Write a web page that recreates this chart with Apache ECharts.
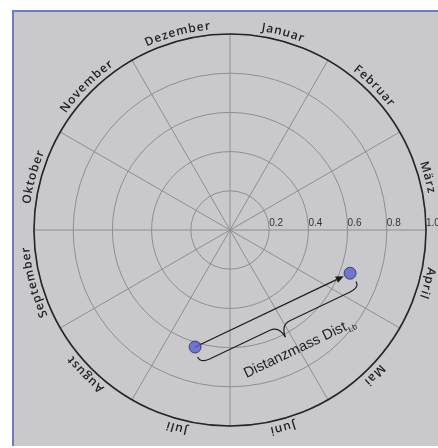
<!DOCTYPE html>
<html><head><meta charset="utf-8">
<script src="https://cdn.jsdelivr.net/npm/echarts@6/dist/echarts.min.js"></script>
<style>
html,body{margin:0;padding:0;background:#fff;}
#bg{position:absolute;left:12px;top:10px;width:426px;height:436px;background:#c9c8cd;border-top:2px solid #6e7cba;border-left:2px solid #6e7cba;box-sizing:border-box;}
#c{position:absolute;left:0;top:0;width:438px;height:448px;}
</style></head><body><div id="bg"></div><div id="c"></div>
<script>
// ---- data ----
const months = ['Januar','Februar','März','April','Mai','Juni','Juli','August','September','Oktober','November','Dezember'];
const monthCenters = [15,45,75,105,135,165,195,225,255,285,315,345]; // degrees clockwise from top
const radiusTicks = [0.2,0.4,0.6,0.8,1.0];
const pointNames = ['s','b'];
const pointRadius = [0.623, 0.651];
const pointAngle = [196.6, 109.8]; // degrees clockwise from top
const distText = 'Distanzmass Dist';
const distSub = 't,b';

// ---- helpers ----
const toAxis = t => (t + 270) % 360;   // axis: 0 at 3 o'clock, clockwise
const LABEL_R = 1.045;
const FONT_SIZE = 12, FONT_FAM = '"Open Sans"', FONT_W = 600, LS = 1.1;
const mctx = document.createElement('canvas').getContext('2d');
mctx.font = FONT_W + ' ' + FONT_SIZE + 'px ' + FONT_FAM;

const chart = echarts.init(document.getElementById('c'), null, {renderer:'canvas'});

const labelData = months.map((m,i) => [LABEL_R, toAxis(monthCenters[i])]);
const pointData = pointRadius.map((r,i) => [r, toAxis(pointAngle[i])]);
const pairData = [[pointRadius[0], toAxis(pointAngle[0]), pointRadius[1], toAxis(pointAngle[1])]];

function renderLabel(params, api) {
  const c = api.coord([0, 0]);
  const p = api.coord([api.value(0), api.value(1)]);
  const R = Math.hypot(p[0]-c[0], p[1]-c[1]);
  const phi = Math.atan2(p[1]-c[1], p[0]-c[0]);
  const chars = Array.from(months[params.dataIndex]);
  const widths = chars.map(ch => mctx.measureText(ch).width);
  const total = widths.reduce((a,b)=>a+b,0) + LS*(chars.length-1);
  let s = -total/2;
  const children = chars.map((ch,k) => {
    const mid = s + widths[k]/2;
    s += widths[k] + LS;
    const a = phi + mid / R;
    return {type:'text', x: c[0]+R*Math.cos(a), y: c[1]+R*Math.sin(a), rotation: -(a+Math.PI/2),
      style:{text: ch, fill:'#232323', fontSize: FONT_SIZE, fontWeight: FONT_W, fontFamily: FONT_FAM, align:'center', verticalAlign:'middle'}};
  });
  return {type:'group', children};
}

function renderPair(params, api) {
  const A = api.coord([api.value(0), api.value(1)]);
  const B = api.coord([api.value(2), api.value(3)]);
  const L = Math.hypot(B[0]-A[0], B[1]-A[1]);
  const ux = (B[0]-A[0])/L, uy = (B[1]-A[1])/L;
  const nx = -uy, ny = ux;
  const P = (u,n) => [A[0]+u*ux+n*nx, A[1]+u*uy+n*ny];
  const f = pt => pt[0].toFixed(2)+' '+pt[1].toFixed(2);
  const tip = P(L-7, 0), base = P(L-15, 0);
  const h1 = P(L-15, 3.5), h2 = P(L-15, -3.5);
  const m = L/2;
  const brace = 'M'+f(P(-2,10))+' Q'+f(P(-2,17))+' '+f(P(8,17))+' L'+f(P(m-11,17))+' Q'+f(P(m-1,17))+' '+f(P(m,30))
    +' Q'+f(P(m+1,17))+' '+f(P(m+11,17))+' L'+f(P(L-8,17))+' Q'+f(P(L+2,17))+' '+f(P(L+2,10));
  const tp = P(33, 46);
  return {type:'group', children:[
    {type:'line', shape:{x1:A[0], y1:A[1], x2:base[0], y2:base[1]}, style:{stroke:'#1e1e1e', lineWidth:1.3}},
    {type:'polygon', shape:{points:[tip,h1,h2]}, style:{fill:'#1e1e1e'}},
    {type:'path', shape:{pathData: brace}, style:{stroke:'#1e1e1e', lineWidth:1.2, fill:'none'}},
    {type:'text', x: tp[0], y: tp[1], rotation: -Math.atan2(uy, ux),
      style:{text:'{a|'+distText+'}{b|'+distSub+'}', align:'left', verticalAlign:'middle',
        rich:{a:{fontSize:14.5, fontFamily:'"Liberation Sans"', fill:'#1e1e1e', lineHeight:18, verticalAlign:'middle'},
              b:{fontSize:8, fontFamily:'"Liberation Sans"', fill:'#1e1e1e', lineHeight:8, verticalAlign:'bottom', padding:[0,0,0,1]}}}}
  ]};
}

chart.setOption({
  backgroundColor: 'transparent',
  animation: false,
  polar: {center: [230, 230], radius: 196},
  angleAxis: {
    type: 'value', min: 0, max: 360, interval: 30, startAngle: 0, clockwise: true,
    axisLine: {show: true, lineStyle: {color: '#262626', width: 1.6}},
    axisTick: {show: false}, axisLabel: {show: false},
    splitLine: {show: true, lineStyle: {color: '#8e8e91', width: 1}}
  },
  radiusAxis: {
    type: 'value', min: 0, max: 1, interval: 0.2,
    axisLine: {show: false}, axisTick: {show: false},
    axisLabel: {show: true, fontSize: 10, fontFamily: '"Liberation Sans"', color: '#333',
      align: 'left', verticalAlign: 'bottom', margin: 2,
      formatter: v => radiusTicks.some(t => Math.abs(t - v) < 1e-9) ? v.toFixed(1) : ''},
    splitLine: {show: true, lineStyle: {color: '#8e8e91', width: 1}}
  },
  series: [
    {type: 'custom', coordinateSystem: 'polar', data: labelData, renderItem: renderLabel, silent: true, z: 3},
    {type: 'custom', coordinateSystem: 'polar', data: pairData, renderItem: renderPair, silent: true, z: 4},
    {type: 'scatter', coordinateSystem: 'polar', data: pointData.map((d,i)=>({name: pointNames[i], value: d})),
      symbolSize: 12, itemStyle: {color: '#5a61cc', borderColor: '#2a2d5c', borderWidth: 1}, z: 5}
  ]
});
</script></body></html>
